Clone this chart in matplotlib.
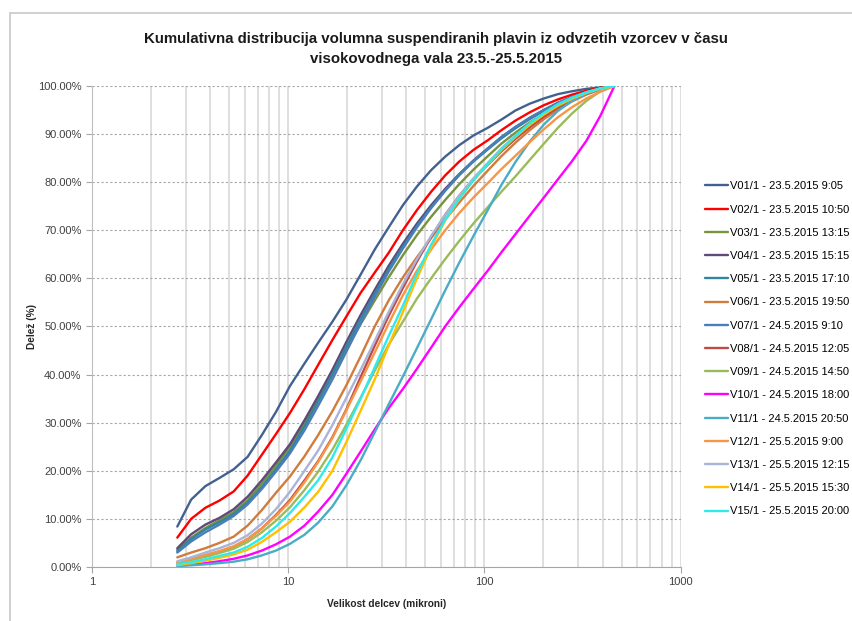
import matplotlib.pyplot as plt
import matplotlib.ticker as mticker
from matplotlib.patches import Rectangle

# velikostni razredi (mikroni)
sizes = [2.72, 3.2, 3.78, 4.46, 5.27, 6.21, 7.33, 8.65, 10.2, 12.1, 14.2, 16.8,
         19.8, 23.4, 27.6, 32.5, 38.4, 45.3, 53.5, 63.1, 74.5, 87.9, 104, 122,
         144, 170, 201, 237, 280, 331, 390, 460]

v01 = [8.4, 14.0, 16.8, 18.5, 20.3, 22.9, 27.4, 32.2, 37.6, 42.3, 46.6, 51.0, 55.6, 60.8, 66.0, 70.6,
       75.2, 79.1, 82.5, 85.3, 87.7, 89.7, 91.3, 93.0, 94.9, 96.3, 97.4, 98.3, 98.9, 99.4, 99.7, 100]
v02 = [6.1, 10.0, 12.3, 13.8, 15.7, 19.0, 23.3, 27.6, 32.0, 37.0, 42.0, 47.2, 52.1, 57.0, 61.2, 65.3,
       70.0, 74.2, 78.0, 81.4, 84.3, 86.7, 88.7, 90.8, 92.8, 94.5, 96.0, 97.2, 98.2, 99.0, 99.6, 100]
v03 = [3.6, 6.1, 8.1, 9.7, 11.4, 13.9, 17.3, 21.0, 25.0, 29.8, 34.7, 40.0, 45.5, 50.5, 55.4, 60.2,
       64.8, 69.0, 72.8, 76.3, 79.6, 82.6, 85.4, 88.0, 90.3, 92.4, 94.2, 95.9, 97.3, 98.5, 99.4, 100]
v04 = [3.9, 6.8, 8.8, 10.2, 12.0, 14.6, 18.0, 21.7, 25.5, 30.5, 35.5, 41.0, 46.8, 52.4, 57.6, 62.6,
       67.2, 71.4, 75.2, 78.6, 81.7, 84.5, 87.0, 89.3, 91.4, 93.3, 95.0, 96.5, 97.7, 98.7, 99.4, 100]
v05 = [3.3, 5.8, 7.8, 9.3, 11.0, 13.4, 16.6, 20.3, 24.2, 29.2, 34.4, 40.0, 45.8, 51.5, 56.8, 61.9,
       66.6, 70.9, 74.8, 78.3, 81.5, 84.3, 86.8, 89.1, 91.2, 93.1, 94.8, 96.3, 97.6, 98.7, 99.4, 100]
v06 = [2.0, 3.0, 3.9, 5.0, 6.3, 8.6, 11.8, 15.4, 18.8, 23.0, 27.4, 32.4, 37.8, 43.8, 50.0, 55.4,
       60.2, 64.4, 68.4, 72.2, 75.8, 79.2, 82.4, 85.4, 88.2, 90.8, 93.1, 95.1, 96.8, 98.2, 99.3, 100]
v07 = [3.0, 5.3, 7.2, 8.8, 10.6, 13.0, 16.2, 19.8, 23.6, 28.4, 33.5, 39.0, 44.8, 50.6, 56.2, 61.4,
       66.2, 70.6, 74.6, 78.2, 81.5, 84.4, 87.0, 89.4, 91.5, 93.4, 95.0, 96.5, 97.7, 98.7, 99.4, 100]
v08 = [0.9, 1.6, 2.4, 3.2, 4.2, 5.8, 8.0, 10.8, 13.9, 18.0, 22.0, 27.0, 32.8, 39.5, 46.0, 52.2,
       58.0, 63.5, 68.6, 73.2, 77.2, 80.6, 83.6, 86.4, 89.0, 91.4, 93.6, 95.5, 97.1, 98.4, 99.3, 100]
v09 = [0.8, 1.4, 2.1, 2.9, 3.8, 5.2, 7.2, 9.6, 12.4, 16.0, 19.8, 24.4, 29.6, 35.2, 40.8, 46.2,
       51.0, 55.8, 60.0, 64.0, 67.8, 71.4, 74.8, 78.0, 81.2, 84.6, 88.0, 91.3, 94.3, 96.9, 98.9, 100]
v10 = [0.3, 0.5, 0.8, 1.2, 1.7, 2.4, 3.4, 4.7, 6.3, 8.6, 11.5, 15.0, 19.4, 24.0, 28.6, 33.0,
       37.0, 41.2, 45.6, 50.0, 54.0, 57.8, 61.6, 65.4, 69.2, 73.0, 76.8, 80.6, 84.4, 88.6, 93.8, 100]
v11 = [0.2, 0.35, 0.55, 0.8, 1.1, 1.6, 2.4, 3.4, 4.8, 6.7, 9.2, 12.6, 17.0, 22.2, 28.0, 33.8,
       39.6, 45.5, 51.5, 57.5, 63.3, 68.8, 74.2, 79.4, 84.2, 88.4, 92.0, 94.8, 96.9, 98.4, 99.4, 100]
v12 = [1.0, 1.7, 2.5, 3.3, 4.3, 5.8, 8.0, 10.6, 13.6, 17.6, 21.8, 26.8, 32.6, 38.6, 44.6, 50.6,
       56.5, 61.6, 66.0, 70.0, 73.6, 76.8, 79.8, 82.7, 85.5, 88.3, 91.0, 93.5, 95.6, 97.4, 98.8, 100]
v13 = [1.2, 2.0, 3.0, 3.9, 5.0, 6.6, 9.0, 12.0, 15.6, 20.0, 24.2, 29.5, 35.2, 41.0, 47.0, 53.0,
       58.8, 64.0, 68.8, 73.2, 77.2, 80.8, 84.0, 87.0, 89.7, 92.1, 94.2, 96.0, 97.4, 98.6, 99.4, 100]
v14 = [0.4, 0.8, 1.3, 1.9, 2.6, 3.6, 5.2, 7.2, 9.4, 12.4, 15.6, 20.0, 26.0, 32.5, 39.0, 46.0,
       53.0, 60.0, 66.5, 72.0, 76.6, 80.4, 83.7, 86.7, 89.4, 91.9, 94.1, 95.9, 97.4, 98.6, 99.5, 100]
v15 = [0.6, 1.0, 1.6, 2.3, 3.0, 4.2, 6.0, 8.4, 11.2, 14.6, 18.0, 22.8, 28.8, 35.0, 41.5, 48.0,
       54.3, 61.0, 67.0, 72.2, 76.6, 80.4, 83.8, 86.8, 89.6, 92.2, 94.4, 96.2, 97.6, 98.7, 99.5, 100]

labels = ['V01/1 - 23.5.2015 9:05', 'V02/1 - 23.5.2015 10:50', 'V03/1 - 23.5.2015 13:15',
          'V04/1 - 23.5.2015 15:15', 'V05/1 - 23.5.2015 17:10', 'V06/1 - 23.5.2015 19:50',
          'V07/1 - 24.5.2015 9:10', 'V08/1 - 24.5.2015 12:05', 'V09/1 - 24.5.2015 14:50',
          'V10/1 - 24.5.2015 18:00', 'V11/1 - 24.5.2015 20:50', 'V12/1 - 25.5.2015 9:00',
          'V13/1 - 25.5.2015 12:15', 'V14/1 - 25.5.2015 15:30', 'V15/1 - 25.5.2015 20:00']
series = [v01, v02, v03, v04, v05, v06, v07, v08, v09, v10, v11, v12, v13, v14, v15]
colors = ['#436190', '#FF0000', '#77933C', '#5F497A', '#31859C', '#D07C3C', '#4A7EBB', '#BE4B48',
          '#9BBB59', '#FF00FF', '#4BACC6', '#F79646', '#A9B4D8', '#FFC000', '#2EEBEB']

plt.rcParams['font.family'] = ['Liberation Sans', 'DejaVu Sans']

fig = plt.figure(figsize=(8.53, 6.21), dpi=100)
ax = fig.add_axes([0.1079, 0.087, 0.690, 0.7746])

for y, c, lab in zip(series, colors, labels):
    ax.plot(sizes, [v / 100 for v in y], color=c, lw=1.7, label=lab, solid_capstyle='round')

ax.set_xscale('log')
ax.set_xlim(1, 1000)
ax.set_ylim(0, 1)
ax.yaxis.set_major_locator(mticker.MultipleLocator(0.1))
ax.yaxis.set_major_formatter(mticker.FuncFormatter(lambda v, p: f'{v * 100:.2f}%'))
ax.xaxis.set_major_formatter(mticker.FuncFormatter(lambda v, p: f'{v:g}'))
ax.xaxis.set_minor_locator(mticker.LogLocator(base=10, subs=range(2, 10)))
ax.xaxis.set_minor_formatter(mticker.NullFormatter())

ax.grid(axis='x', which='both', color='#D9D9D9', lw=1.2, linestyle='-')
ax.grid(axis='y', which='major', color='#A6A6A6', lw=0.8, linestyle=(0, (2, 2)))
ax.set_axisbelow(True)
for s in ['top', 'right']:
    ax.spines[s].set_visible(False)
ax.spines['left'].set_color('#BFBFBF')
ax.spines['bottom'].set_color('#A6A6A6')
ax.tick_params(axis='both', which='major', labelsize=8, labelcolor='#404040', color='#A6A6A6',
               length=4, width=0.8)
ax.tick_params(axis='x', which='minor', length=0)

ax.set_xlabel('Velikost delcev (mikroni)', fontsize=7.3, fontweight='bold', color='#262626', labelpad=8)
ax.set_ylabel('Delež (%)', fontsize=7.3, fontweight='bold', color='#262626', labelpad=1)

fig.text(0.511, 0.921, 'Kumulativna distribucija volumna suspendiranih plavin iz odvzetih vzorcev v času\n'
         'visokovodnega vala 23.5.-25.5.2015', ha='center', va='center', fontsize=10.8,
         fontweight='bold', color='#1a1a1a', linespacing=1.5)

fig.legend(loc='upper left', bbox_to_anchor=(0.8265, 0.708), frameon=False, fontsize=8,
           handlelength=2.1, handletextpad=0.15, labelspacing=1.19, borderpad=0, borderaxespad=0)

fig.patches.append(Rectangle((10 / 853, -0.2), 1.2, 0.2 + 1 - 13 / 621, transform=fig.transFigure,
                             fill=False, edgecolor='#C8C8C8', lw=1.2))

fig.savefig('out.png', dpi=100)
